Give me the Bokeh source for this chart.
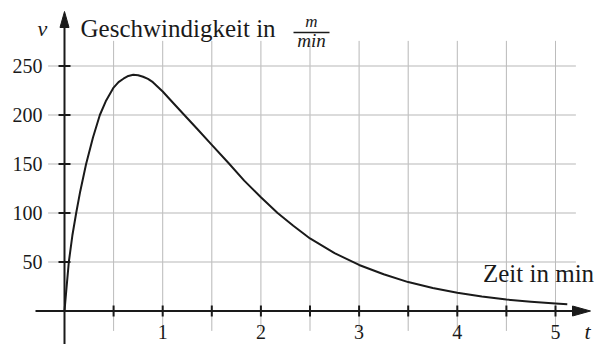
from bokeh.plotting import figure
from bokeh.models import Range1d, ColumnDataSource
from bokeh.core.properties import value
from bokeh.embed import file_html
from bokeh.resources import INLINE

# ---- data ----
t_min = [0, 0.02, 0.044, 0.08, 0.119, 0.16, 0.22, 0.29, 0.36, 0.42, 0.5, 0.55, 0.6, 0.65,
         0.7, 0.75, 0.8, 0.85, 0.9, 1.0, 1.1, 1.22, 1.35, 1.5, 1.67, 1.83, 2.0, 2.17,
         2.33, 2.5, 2.75, 3.0, 3.25, 3.5, 3.75, 4.0, 4.25, 4.5, 4.75, 5.0, 5.12]
v_speed = [0, 23, 50, 77, 100, 122, 150, 177, 200, 214, 228, 233.5, 237, 239.8, 241,
           240.6, 239, 236.8, 233.5, 224, 213, 200, 186, 169.5, 151, 133, 116, 100,
           87, 74, 59, 47, 37.5, 29.5, 23.5, 18.6, 14.8, 11.7, 9.4, 7.6, 6.9]
y_ticks = [50, 100, 150, 200, 250]
x_ticks = [0.5, 1, 1.5, 2, 2.5, 3, 3.5, 4, 4.5, 5]
x_labels = [1, 2, 3, 4, 5]
y_title = "Geschwindigkeit in"
unit_num = "m"
unit_den = "min"
x_title = "Zeit in min"

# ---- layout helpers (pixel -> data) ----
W, H = 594, 344
SX, SY = 98.2, 0.98
OX, OY = 64.0, 310.5          # pixel position of origin
X0 = -OX / SX
X1 = X0 + W / SX
Y1 = OY / SY
Y0 = Y1 - H / SY

def dx(px):   # pixel x -> t
    return (px - OX) / SX

def dy(py):   # pixel y -> v
    return (OY - py) / SY

SERIF = value("Liberation Serif")
INK = "#1a1a1a"

p = figure(width=W, height=H, output_backend="svg", toolbar_location=None,
           x_range=Range1d(X0, X1), y_range=Range1d(Y0, Y1),
           x_axis_type=None, y_axis_type=None, min_border=0, title=None)
p.outline_line_color = None
p.grid.visible = False
p.background_fill_color = "white"

# grid
gx0, gx1 = dx(48), dx(575)
gy0, gy1 = dy(330), dy(40)
n_y, n_x = len(y_ticks), len(x_ticks)
p.segment(x0=[gx0] * n_y, x1=[gx1] * n_y, y0=y_ticks, y1=y_ticks,
          line_color="#ededed", line_width=1)
p.segment(x0=[gx0] * n_y, x1=[gx1] * n_y, y0=y_ticks, y1=y_ticks,
          line_color="#8a8a8a", line_width=1, line_dash="1 1")
p.segment(x0=x_ticks, x1=x_ticks, y0=[gy0] * n_x, y1=[gy1] * n_x,
          line_color="#ededed", line_width=1)
p.segment(x0=x_ticks, x1=x_ticks, y0=[gy0] * n_x, y1=[gy1] * n_x,
          line_color="#8a8a8a", line_width=1, line_dash="1 1")

# axes
p.segment(x0=[dx(35)], x1=[dx(579)], y0=[0], y1=[0], line_color=INK, line_width=2)
p.segment(x0=[0], x1=[0], y0=[dy(350)], y1=[dy(24)], line_color=INK, line_width=2)
# arrow heads
p.patch([dx(590), dx(572), dx(572)], [0, dy(OY - 5), dy(OY + 5)],
        fill_color=INK, line_color=INK)
p.patch([0, dx(OX - 4.5), dx(OX + 4.5)], [dy(11), dy(27), dy(27)],
        fill_color=INK, line_color=INK)

# tick marks
p.segment(x0=[dx(58)] * n_y, x1=[dx(70)] * n_y, y0=y_ticks, y1=y_ticks,
          line_color=INK, line_width=2)
p.segment(x0=x_ticks, x1=x_ticks, y0=[dy(305)] * n_x, y1=[dy(316)] * n_x,
          line_color=INK, line_width=2)

# tick labels
p.text(x=[dx(42)] * n_y, y=y_ticks,
       text=[str(v) for v in y_ticks], text_font=SERIF, text_font_size="20px",
       text_align="right", text_baseline="middle", text_color=INK)
p.text(x=x_labels, y=[dy(331.3)] * len(x_labels), text=[str(v) for v in x_labels],
       text_font=SERIF, text_font_size="20px", text_align="center",
       text_baseline="middle", text_color=INK)

# curve
src = ColumnDataSource(dict(t=t_min, v=v_speed))
p.line("t", "v", source=src, line_color=INK, line_width=2, line_join="round")

# titles
p.text(x=[dx(37)], y=[dy(27.6)], text=["v"], text_font=SERIF, text_font_size="22px",
       text_font_style="italic", text_baseline="middle", text_color=INK)
p.text(x=[dx(80)], y=[dy(28.3)], text=[y_title], text_font=SERIF, text_font_size="25px",
       text_baseline="middle", text_color=INK)
p.text(x=[dx(311)], y=[dy(21)], text=[unit_num], text_font=SERIF, text_font_size="17px",
       text_font_style="italic", text_align="center", text_baseline="middle",
       text_color=INK)
p.segment(x0=[dx(293)], x1=[dx(329)], y0=[dy(32)], y1=[dy(32)], line_color=INK,
          line_width=1.5)
p.text(x=[dx(311)], y=[dy(39.6)], text=[unit_den], text_font=SERIF, text_font_size="19px",
       text_font_style="italic", text_align="center", text_baseline="middle",
       text_color=INK)
p.text(x=[dx(482.5)], y=[dy(273.3)], text=[x_title], text_font=SERIF, text_font_size="25px",
       text_baseline="middle", text_color=INK)
p.text(x=[dx(584)], y=[dy(330.6)], text=["t"], text_font=SERIF, text_font_size="22px",
       text_font_style="italic", text_baseline="middle", text_color=INK)

open("out.html", "w").write(file_html(p, INLINE))
